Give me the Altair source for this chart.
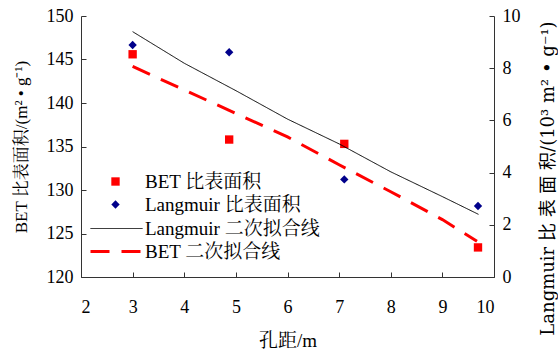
import altair as alt
import pandas as pd

# ---- data ----
hole_x = [3.0, 4.87, 7.1, 9.69]
bet_area = [145.6, 135.8, 135.3, 123.4]
lang_area = [8.89, 8.61, 3.74, 2.72]

lang_fit_x = [3.0, 4.0, 5.0, 6.0, 7.0, 8.0, 9.0, 9.7]
lang_fit_y = [9.40, 8.19, 7.14, 6.05, 5.10, 4.03, 3.08, 2.40]

bet_fit_x = [3.0, 4.0, 5.0, 6.0, 7.0, 8.0, 9.0, 9.67]
bet_fit_y = [144.2, 141.5, 138.8, 136.1, 132.9, 129.8, 126.6, 124.1]

point_names = ["BET 比表面积", "Langmuir 比表面积"]
line_names = ["Langmuir 二次拟合线", "BET 二次拟合线"]

x_ticks = [2, 3, 4, 5, 6, 7, 8, 9, 10]
bet_ticks = [120, 125, 130, 135, 140, 145, 150]
lang_ticks = [0, 2, 4, 6, 8, 10]

FONT = "Liberation Serif, Times New Roman, Noto Serif CJK SC, Noto Sans CJK SC"
WIDE_FONT = "DejaVu Serif, Noto Sans CJK SC"
RED = "#FF0000"
NAVY = "#00008B"

bet_pts = pd.DataFrame({"x": hole_x, "y": bet_area, "series": point_names[0]})
lang_pts = pd.DataFrame({"x": hole_x, "y": lang_area, "series": point_names[1]})
lang_fit = pd.DataFrame({"x": lang_fit_x, "y": lang_fit_y, "fit": line_names[0]})
bet_fit = pd.DataFrame({"x": bet_fit_x, "y": bet_fit_y, "fit": line_names[1]})

x_enc = alt.X(
    "x:Q",
    scale=alt.Scale(domain=[2, 10], nice=False, zero=False),
    axis=alt.Axis(
        values=x_ticks, title="孔距/m", grid=False, labelPadding=26,
        titleY=63, titleBaseline="middle", titleFontSize=19,
    ),
)

fill_scale = alt.Scale(domain=point_names, range=[RED, NAVY])
shape_scale = alt.Scale(domain=point_names, range=["square", "diamond"])
pt_legend = alt.Legend(
    title=None, orient="none", legendX=25, legendY=156,
    labelOffset=20, symbolSize=70, symbolStrokeWidth=0,
)

stroke_scale = alt.Scale(domain=line_names, range=["#000000", RED])
dash_scale = alt.Scale(domain=line_names, range=[[1, 0], [19, 12]])
width_scale = alt.Scale(domain=line_names, range=[1, 3])
ln_legend = alt.Legend(
    title=None, orient="none", legendX=26, legendY=203,
    labelOffset=19, symbolType="M-5.2,0L5.2,0", symbolSize=100,
)

bet_axis = alt.Axis(
    values=bet_ticks, grid=False,
    title="BET 比表面积/(m² • g⁻¹)",
    titleX=-60, titleBaseline="middle",
)
lang_axis = alt.Axis(
    values=lang_ticks, grid=False, orient="right",
    title="Langmuir 比 表 面 积/(10³ m² • g⁻¹)",
    titleFont=WIDE_FONT, titleFontSize=18,
    titleAngle=270, titleX=54, titleY=162, titleBaseline="middle",
)

bet_y = alt.Y("y:Q", scale=alt.Scale(domain=[120, 150], nice=False, zero=False), axis=bet_axis)
lang_y = alt.Y("y:Q", scale=alt.Scale(domain=[0, 10], nice=False, zero=False), axis=lang_axis)

bet_points = alt.Chart(bet_pts).mark_point(filled=True, size=70, opacity=1).encode(
    x=x_enc, y=bet_y,
    fill=alt.Fill("series:N", scale=fill_scale, legend=pt_legend),
    shape=alt.Shape("series:N", scale=shape_scale, legend=pt_legend),
)
bet_line = alt.Chart(bet_fit).mark_line().encode(
    x=x_enc, y=bet_y,
    stroke=alt.Stroke("fit:N", scale=stroke_scale, legend=ln_legend),
    strokeDash=alt.StrokeDash("fit:N", scale=dash_scale, legend=ln_legend),
    strokeWidth=alt.StrokeWidth("fit:N", scale=width_scale, legend=ln_legend),
)
lang_points = alt.Chart(lang_pts).mark_point(filled=True, size=70, opacity=1).encode(
    x=x_enc, y=lang_y,
    fill=alt.Fill("series:N", scale=fill_scale, legend=pt_legend),
    shape=alt.Shape("series:N", scale=shape_scale, legend=pt_legend),
)
lang_line = alt.Chart(lang_fit).mark_line().encode(
    x=x_enc, y=lang_y,
    stroke=alt.Stroke("fit:N", scale=stroke_scale, legend=ln_legend),
    strokeDash=alt.StrokeDash("fit:N", scale=dash_scale, legend=ln_legend),
    strokeWidth=alt.StrokeWidth("fit:N", scale=width_scale, legend=ln_legend),
)

left = alt.layer(bet_line, bet_points)
right = alt.layer(lang_line, lang_points)

chart = (
    alt.layer(left, right)
    .resolve_scale(y="independent")
    .properties(
        width=413, height=261,
        autosize=alt.AutoSizeParams(type="none"),
        padding={"left": 81, "top": 16, "right": 64, "bottom": 73},
        background="white",
    )
    .configure_view(stroke=None)
    .configure_axis(
        labelFont=FONT, titleFont=FONT, labelFontSize=18, titleFontSize=17,
        labelColor="#000", titleColor="#000", titleFontWeight="normal",
        domainColor="#333", tickColor="#333", domainWidth=1, tickWidth=1,
        tickSize={"expr": "-5"}, labelPadding=13,
    )
    .configure_legend(
        labelFont=FONT, labelFontSize=19, labelColor="#000", rowPadding=3,
        labelLimit=300,
    )
)

chart.save("out.html", embed_options={"renderer": "svg", "actions": False})
